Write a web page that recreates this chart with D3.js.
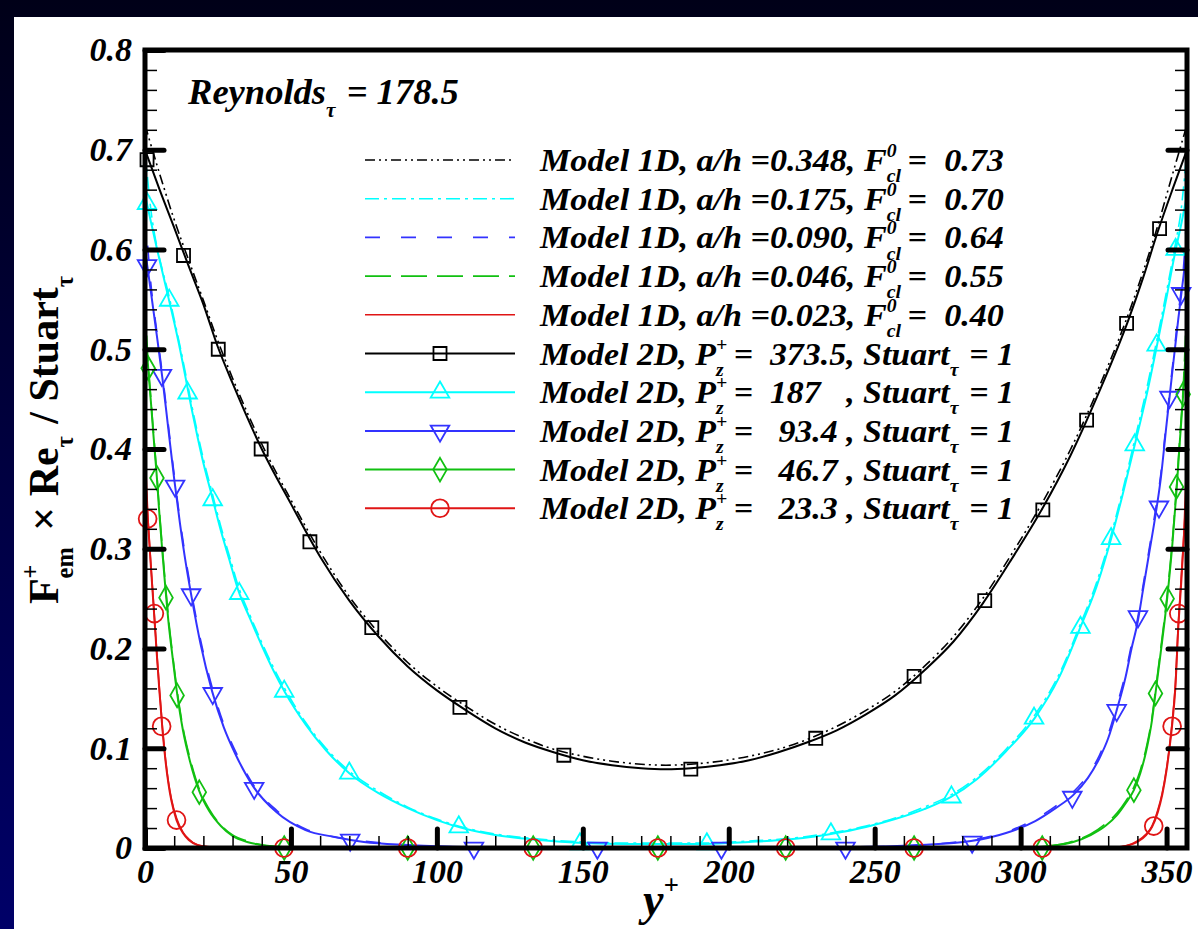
<!DOCTYPE html>
<html>
<head>
<meta charset="utf-8">
<script src="https://cdn.jsdelivr.net/npm/d3@7"></script>
<style>
  html, body { margin: 0; padding: 0; background: #000033; }
  svg text { font-family: "Liberation Serif", "Times New Roman", serif; white-space: pre; }
</style>
</head>
<body>
<script>
// x positions are y+ (wall units), values are F_em+ x Re_tau / Stuart_tau
const xMajorTicks = [0, 50, 100, 150, 200, 250, 300, 350];
const xMinorTicks = d3.range(10, 360, 10);
const yMajorTicks = [0, 0.1, 0.2, 0.3, 0.4, 0.5, 0.6, 0.7, 0.8];
const yMinorTicks = d3.range(0.02, 0.8, 0.02);

// Model 1D curves
const model1D_348 = [[0,0.725],[5,0.676],[10,0.630],[15,0.589],[20,0.549],[25,0.508],[30,0.471],[40,0.405],[50,0.349],[60,0.297],[70,0.252],[80,0.216],[90,0.186],[100,0.162],[110,0.142],[120,0.124],[130,0.110],[140,0.099],[150,0.092],[160,0.087],[170,0.084],[178.5,0.083],[187,0.084],[197,0.087],[207,0.092],[217,0.099],[227,0.109],[237,0.122],[247,0.138],[257,0.157],[267,0.182],[277,0.212],[287,0.250],[297,0.295],[307,0.344],[317,0.399],[327,0.463],[337,0.536],[342,0.578],[347,0.624],[352,0.675],[357,0.725]];
const model1D_175 = [[0,0.700],[2,0.640],[4,0.604],[6,0.579],[8,0.556],[10,0.530],[12,0.503],[14,0.474],[16,0.444],[18,0.416],[20,0.390],[23,0.356],[26,0.322],[29,0.292],[32,0.262],[36,0.233],[40,0.206],[44,0.181],[48,0.159],[55,0.126],[62,0.100],[70,0.077],[80,0.057],[90,0.041],[100,0.029],[110,0.020],[120,0.014],[135,0.009],[150,0.006],[165,0.005],[178.5,0.005],[192,0.005],[207,0.007],[222,0.010],[235,0.015],[247,0.022],[257,0.030],[267,0.041],[276,0.053],[285,0.071],[295,0.099],[305,0.134],[313,0.173],[320,0.221],[326,0.266],[331,0.314],[335,0.359],[339,0.408],[343,0.458],[347,0.514],[350,0.558],[353,0.605],[355,0.640],[357,0.700]];
const model1D_090 = [[0,0.640],[2,0.566],[4,0.519],[6,0.474],[8,0.424],[10,0.374],[12,0.329],[14,0.289],[16,0.255],[19,0.209],[23,0.161],[27,0.124],[31,0.097],[37,0.064],[45,0.038],[55,0.019],[65,0.011],[75,0.007],[90,0.003],[110,0.001],[130,0],[225,0],[245,0.001],[265,0.003],[283,0.008],[295,0.016],[305,0.029],[312,0.042],[318,0.056],[323,0.073],[327,0.093],[330,0.114],[333,0.143],[336,0.176],[338,0.204],[340,0.229],[342,0.264],[344,0.299],[346,0.335],[348,0.374],[350,0.429],[352,0.482],[354,0.535],[356,0.590],[357,0.640]];
const model1D_046 = [[0,0.550],[1,0.490],[2,0.451],[3,0.413],[4,0.377],[5,0.336],[6,0.299],[7,0.264],[8,0.232],[9.5,0.193],[11,0.158],[13,0.121],[15.5,0.089],[18.6,0.059],[22,0.039],[26,0.023],[30,0.013],[35,0.007],[40,0.003],[47,0.001],[55,0],[300,0],[310,0.002],[318,0.007],[324,0.014],[329,0.024],[333,0.035],[336,0.047],[338.8,0.061],[341,0.078],[343,0.100],[345,0.131],[346.2,0.158],[348,0.200],[350.2,0.254],[352,0.309],[353.4,0.362],[354.6,0.414],[355.7,0.462],[357,0.550]];
const model1D_023 = [[0,0.400],[1,0.332],[2,0.285],[3,0.242],[4,0.198],[5,0.157],[6,0.120],[7,0.090],[8,0.067],[9,0.050],[10.8,0.030],[13,0.016],[15,0.009],[18,0.003],[22,0.001],[28,0],[330,0],[336,0.002],[340,0.007],[343,0.014],[345,0.022],[347,0.038],[348.5,0.055],[350,0.080],[351,0.102],[352,0.129],[353,0.164],[354,0.224],[355,0.270],[356,0.320],[357,0.400]];

// Model 2D curves
const model2D_3735 = [[0,0.700],[5,0.660],[10,0.622],[15,0.583],[20,0.545],[25,0.502],[30,0.466],[40,0.400],[50,0.345],[60,0.292],[70,0.248],[80,0.212],[90,0.182],[100,0.158],[110,0.138],[120,0.120],[130,0.106],[140,0.096],[150,0.088],[160,0.083],[170,0.080],[178.5,0.079],[187,0.080],[197,0.083],[207,0.088],[217,0.096],[227,0.106],[237,0.118],[247,0.134],[257,0.153],[267,0.178],[277,0.207],[287,0.245],[297,0.290],[307,0.338],[317,0.393],[327,0.458],[337,0.530],[342,0.572],[347,0.618],[352,0.660],[357,0.700]];
const model2D_187 = [[0,0.655],[2,0.628],[4,0.602],[6,0.577],[8,0.552],[10,0.527],[12,0.500],[14,0.470],[16,0.440],[18,0.412],[20,0.386],[23,0.352],[26,0.318],[29,0.288],[32,0.258],[36,0.230],[40,0.203],[44,0.178],[48,0.156],[55,0.124],[62,0.098],[70,0.075],[80,0.055],[90,0.040],[100,0.028],[110,0.019],[120,0.013],[135,0.008],[150,0.005],[165,0.004],[178.5,0.004],[192,0.004],[207,0.006],[222,0.009],[235,0.014],[247,0.021],[257,0.029],[267,0.039],[276,0.051],[285,0.069],[295,0.097],[305,0.131],[313,0.170],[320,0.218],[326,0.262],[331,0.310],[335,0.355],[339,0.403],[343,0.452],[347,0.508],[350,0.552],[353,0.598],[355,0.625],[357,0.655]];
const model2D_934 = [[0,0.600],[2,0.558],[4,0.515],[6,0.470],[8,0.420],[10,0.370],[12,0.325],[14,0.285],[16,0.251],[19,0.205],[23,0.157],[27,0.121],[31,0.094],[37,0.062],[45,0.036],[55,0.018],[65,0.011],[75,0.006],[90,0.003],[110,0.001],[130,0],[225,0],[245,0.001],[265,0.003],[283,0.007],[295,0.015],[305,0.027],[312,0.040],[318,0.053],[323,0.070],[327,0.090],[330,0.110],[333,0.139],[336,0.172],[338,0.200],[340,0.225],[342,0.260],[344,0.295],[346,0.330],[348,0.370],[350,0.425],[352,0.478],[354,0.530],[356,0.578],[357,0.600]];
const model2D_467 = [[0,0.520],[1,0.485],[2,0.448],[3,0.410],[4,0.374],[5,0.332],[6,0.295],[7,0.260],[8,0.228],[9.5,0.190],[11,0.155],[13,0.118],[15.5,0.086],[18.6,0.057],[22,0.037],[26,0.022],[30,0.012],[35,0.006],[40,0.003],[47,0.001],[55,0],[300,0],[310,0.002],[318,0.006],[324,0.013],[329,0.022],[333,0.033],[336,0.045],[338.8,0.058],[341,0.075],[343,0.097],[345,0.128],[346.2,0.155],[348,0.196],[350.2,0.250],[352,0.305],[353.4,0.358],[354.6,0.410],[355.7,0.455],[357,0.520]];
const model2D_233 = [[0,0.375],[1,0.328],[2,0.283],[3,0.240],[4,0.196],[5,0.155],[6,0.118],[7,0.088],[8,0.065],[9,0.048],[10.8,0.028],[13,0.015],[15,0.008],[18,0.003],[22,0.001],[28,0],[330,0],[336,0.002],[340,0.006],[343,0.013],[345,0.021],[347,0.036],[348.5,0.053],[350,0.078],[351,0.100],[352,0.126],[353,0.160],[354,0.220],[355,0.265],[356,0.315],[357,0.365]];

// Model 2D marker points
const markers_3735 = [[0.7,0.690],[13.2,0.594],[25.1,0.500],[39.8,0.400],[56.5,0.307],[77.7,0.221],[107.9,0.141],[143.5,0.093],[187,0.079],[229.8,0.110],[263.5,0.172],[287.7,0.248],[307.6,0.339],[322.6,0.429],[336.3,0.526],[347.6,0.621]];
const markers_187 = [[0.7,0.646],[8.3,0.549],[14.6,0.456],[23.2,0.349],[32.3,0.255],[47.7,0.157],[70,0.075],[107.5,0.021],[149,0.004],[192.5,0.004],[235,0.014],[276.3,0.051],[304.6,0.130],[320.5,0.221],[331,0.310],[339.1,0.404],[346.6,0.504],[353.1,0.600]];
const markers_934 = [[0.7,0.584],[5.8,0.474],[10.3,0.363],[15.8,0.254],[23.2,0.155],[37.4,0.060],[70.3,0.008],[112.7,0],[155,0],[197.5,0],[240,0],[283.4,0.006],[317.7,0.051],[332.9,0.138],[340.2,0.232],[347.4,0.342],[351,0.452],[355,0.556]];
const markers_467 = [[1.1,0.481],[4.1,0.371],[7.2,0.251],[11,0.153],[18.6,0.056],[47.7,0],[90,0],[133,0],[175.7,0],[219.5,0],[263.5,0],[307.4,0],[338.8,0.058],[346.2,0.155],[350.2,0.250],[353.4,0.362],[355.7,0.455]];
const markers_233 = [[0.9,0.330],[3.2,0.235],[5.7,0.122],[10.8,0.028],[47.6,0],[90,0],[133,0],[175.7,0],[219.5,0],[263.5,0],[307.4,0],[345.6,0.022],[351.9,0.122],[354.2,0.235]];

const ahLabels = ["0.348", "0.175", "0.090", "0.046", "0.023"];
const fclLabels = ["0.73", "0.70", "0.64", "0.55", "0.40"];
const pzLabels = ["373.5", "187   ", " 93.4 ", " 46.7 ", " 23.3 "];

const colors = ["#000000", "#00ffff", "#3333ff", "#11c011", "#e01515"];
const dashes = ["10,4,2,4,2,4", "14,5,3,5", "15,21", "26,10", null];
const symbols = [d3.symbolSquare, d3.symbolTriangle, d3.symbolTriangle, d3.symbolDiamond, d3.symbolCircle];
const symbolSizes = [170, 150, 150, 160, 250];
const symbolRot = [0, 0, 180, 0, 0];

const series1D = [model1D_348, model1D_175, model1D_090, model1D_046, model1D_023];
const series2D = [model2D_3735, model2D_187, model2D_934, model2D_467, model2D_233];
const markers2D = [markers_3735, markers_187, markers_934, markers_467, markers_233];

// layout
const W = 1198, H = 929;
const plot = { left: 145, right: 1187, top: 50, bottom: 848 };

const svg = d3.select("body").append("svg")
  .attr("width", W).attr("height", H)
  .style("display", "block");

const defs = svg.append("defs");
const grad = defs.append("linearGradient")
  .attr("id", "bg").attr("x1", 0).attr("y1", 0).attr("x2", 0).attr("y2", 1);
grad.append("stop").attr("offset", "0%").attr("stop-color", "#000018");
grad.append("stop").attr("offset", "100%").attr("stop-color", "#000068");

svg.append("rect").attr("width", W).attr("height", H).attr("fill", "url(#bg)");
svg.append("rect").attr("x", 14).attr("y", 17).attr("width", W - 14).attr("height", H - 17).attr("fill", "#fff");

defs.append("clipPath").attr("id", "clip")
  .append("rect").attr("x", plot.left).attr("y", plot.top)
  .attr("width", plot.right - plot.left).attr("height", plot.bottom - plot.top);

const x = d3.scaleLinear().domain([0, 357]).range([plot.left, plot.right]);
const y = d3.scaleLinear().domain([0, 0.8]).range([plot.bottom, plot.top]);

const line = d3.line()
  .x(d => x(d[0]))
  .y(d => y(d[1]))
  .curve(d3.curveMonotoneX);

// curves
const curves = svg.append("g").attr("clip-path", "url(#clip)");
series2D.forEach((s, i) => {
  curves.append("path").datum(s)
    .attr("fill", "none")
    .attr("stroke", colors[i])
    .attr("stroke-width", 2)
    .attr("d", line);
});
series1D.forEach((s, i) => {
  curves.append("path").datum(s)
    .attr("fill", "none")
    .attr("stroke", colors[i])
    .attr("stroke-width", 1.6)
    .attr("stroke-dasharray", dashes[i])
    .attr("d", line);
});

// markers
function marker(g, cx, cy, i) {
  g.append("path")
    .attr("d", d3.symbol().type(symbols[i]).size(symbolSizes[i]))
    .attr("transform", "translate(" + cx + "," + cy + ") rotate(" + symbolRot[i] + ")")
    .attr("fill", "none")
    .attr("stroke", colors[i])
    .attr("stroke-width", 1.8);
}
const marks = svg.append("g");
markers2D.forEach((m, i) => {
  m.forEach(d => marker(marks, x(d[0]), y(d[1]), i));
});

// axes: minor ticks
function styleTicks(g, width, cap) {
  g.select(".domain").remove();
  g.selectAll(".tick line").attr("stroke", "#000").attr("stroke-width", width).attr("stroke-linecap", cap);
}
svg.append("g").attr("transform", "translate(0," + plot.bottom + ")")
  .call(d3.axisBottom(x).tickValues(xMinorTicks).tickSizeInner(-12).tickSizeOuter(0).tickFormat(""))
  .call(g => styleTicks(g, 1.5, "butt"));
svg.append("g").attr("transform", "translate(" + plot.left + ",0)")
  .call(d3.axisLeft(y).tickValues(yMinorTicks).tickSizeInner(-12).tickSizeOuter(0).tickFormat(""))
  .call(g => styleTicks(g, 1.5, "butt"));
svg.append("g").attr("transform", "translate(" + plot.right + ",0)")
  .call(d3.axisRight(y).tickValues(yMinorTicks).tickSizeInner(-12).tickSizeOuter(0).tickFormat(""))
  .call(g => styleTicks(g, 1.5, "butt"));

// major ticks with labels
const tickFont = 34;
const xAx = svg.append("g").attr("transform", "translate(0," + plot.bottom + ")")
  .call(d3.axisBottom(x).tickValues(xMajorTicks).tickSizeInner(-19).tickSizeOuter(0).tickPadding(11).tickFormat(d3.format("d")))
  .call(g => styleTicks(g, 5, "round"));
xAx.selectAll("text").attr("font-size", tickFont).attr("font-weight", "bold").attr("font-style", "italic")
  .attr("fill", "#000").style("font-family", "Liberation Serif");

const yAx = svg.append("g").attr("transform", "translate(" + plot.left + ",0)")
  .call(d3.axisLeft(y).tickValues(yMajorTicks).tickSizeInner(-19).tickSizeOuter(0).tickPadding(13).tickFormat(d => d === 0 ? "0" : d3.format(".1f")(d)))
  .call(g => styleTicks(g, 5, "round"));
yAx.selectAll("text").attr("font-size", tickFont).attr("font-weight", "bold").attr("font-style", "italic")
  .attr("fill", "#000").style("font-family", "Liberation Serif");

svg.append("g").attr("transform", "translate(" + plot.right + ",0)")
  .call(d3.axisRight(y).tickValues(yMajorTicks.slice(1, -1)).tickSizeInner(-19).tickSizeOuter(0).tickFormat(""))
  .call(g => styleTicks(g, 5, "round"));

// frame
svg.append("rect")
  .attr("x", plot.left).attr("y", plot.top)
  .attr("width", plot.right - plot.left).attr("height", plot.bottom - plot.top)
  .attr("fill", "none").attr("stroke", "#000").attr("stroke-width", 5);

// one text element with tspans; parts are strings or {sup, sub, gap}
function rich(g, parts, size) {
  const t = g.append("text").attr("x", 0).attr("y", 0).attr("font-size", size);
  const small = size * 0.58;
  const upY = -size * 0.45, downY = size * 0.36;
  let cur = 0, pendDx = 0;
  parts.forEach(p => {
    if (typeof p === "string") {
      t.append("tspan").attr("dx", pendDx).attr("dy", -cur).text(p);
      cur = 0; pendDx = 0;
    } else {
      let w1 = 0, w2 = 0;
      if (p.sup) {
        const s = t.append("tspan").attr("font-size", small)
          .attr("dx", pendDx).attr("dy", upY - cur).text(p.sup);
        cur = upY; pendDx = 0;
        w1 = s.node().getComputedTextLength();
      }
      if (p.sub) {
        const s = t.append("tspan").attr("font-size", small)
          .attr("dx", p.sup ? -w1 : pendDx).attr("dy", downY - cur).text(p.sub);
        cur = downY; pendDx = 0;
        w2 = s.node().getComputedTextLength();
      }
      const last = p.sub ? w2 : w1;
      pendDx = Math.max(w1, w2) - last + (p.gap || 0);
    }
  });
  return t;
}
// place a rich text at (x0, baseline y0), stretched to the given width
function fitText(parent, x0, y0, parts, size, width) {
  const g = parent.append("g");
  const t = rich(g, parts, size);
  const w = t.node().getBBox().width;
  const sx = width ? width / w : 1;
  g.attr("transform", "translate(" + x0 + "," + y0 + ") scale(" + sx + ",1)");
  return g;
}

// Reynolds annotation
const ann = svg.append("g").attr("font-weight", "bold").attr("font-style", "italic");
fitText(ann, 188, 104, ["Reynolds", { sub: "τ", gap: 2 }, " = 178.5"], 36, 272);

// legend
const legend = svg.append("g");
const rowY = d3.range(10).map(i => 160 + i * 38.7);
const lx0 = 365, lx1 = 515, tx = 540;
const legFont = 31;
for (let i = 0; i < 5; i++) {
  legend.append("line").attr("x1", lx0).attr("x2", lx1).attr("y1", rowY[i]).attr("y2", rowY[i])
    .attr("stroke", colors[i]).attr("stroke-width", 1.6).attr("stroke-dasharray", dashes[i]);
  const g = legend.append("g").attr("font-weight", "bold").attr("font-style", "italic");
  fitText(g, tx, rowY[i] + 11, ["Model 1D, a/h =" + ahLabels[i] + ", F", { sup: "0", sub: "cl", gap: 6 }, "=  " + fclLabels[i]], legFont, 465);
}
for (let i = 0; i < 5; i++) {
  const yy = rowY[i + 5];
  legend.append("line").attr("x1", lx0).attr("x2", lx1).attr("y1", yy).attr("y2", yy)
    .attr("stroke", colors[i]).attr("stroke-width", 2);
  marker(legend, (lx0 + lx1) / 2, yy, i);
  const g = legend.append("g").attr("font-weight", "bold").attr("font-style", "italic");
  fitText(g, tx, yy + 11, ["Model 2D, P", { sup: "+", sub: "z", gap: 6 }, "=  " + pzLabels[i] + ", Stuart", { sub: "τ", gap: 2 }, " = 1"], legFont, 475);
}

// x axis title
const xt = svg.append("g").attr("font-weight", "bold").attr("font-style", "italic");
fitText(xt, 643, 915, ["y", { sup: "+" }], 46);

// y axis title (rotated)
const yt = svg.append("g").attr("font-weight", "bold");
const ytext = rich(yt, ["F", { sup: "+", sub: "em", gap: 6 }, " × Re", { sub: "τ", gap: 2 }, " / Stuart", { sub: "τ" }], 42);
const yw = ytext.node().getBBox().width;
yt.attr("transform", "translate(58," + (440 + yw / 2) + ") rotate(-90)");
</script>
</body>
</html>
